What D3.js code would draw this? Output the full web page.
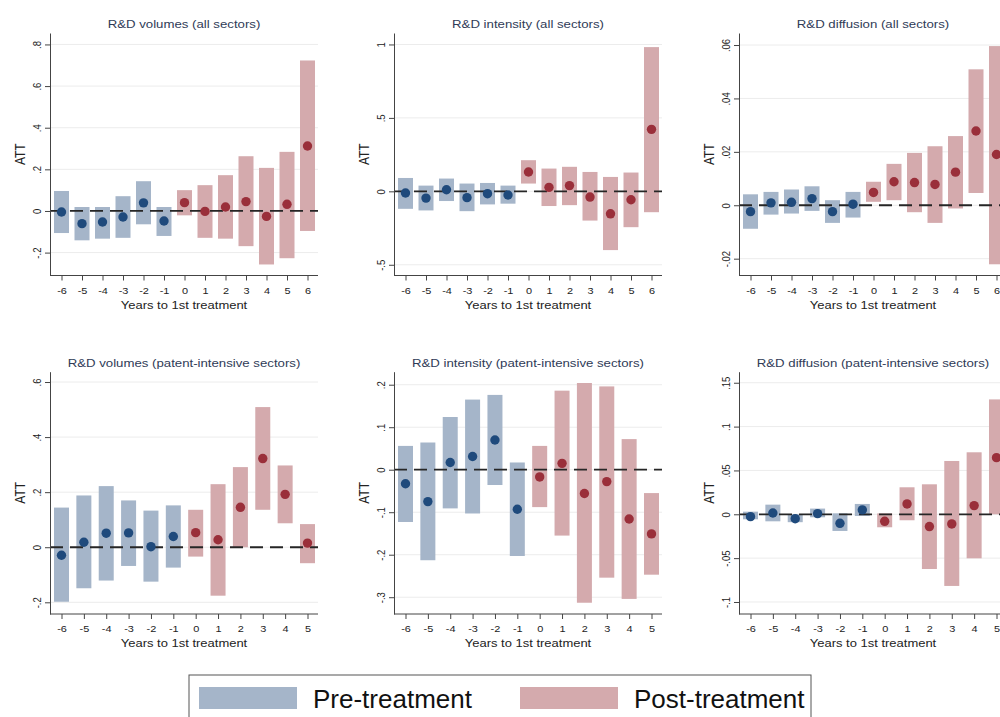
<!DOCTYPE html>
<html>
<head>
<meta charset="utf-8">
<script src="https://cdn.jsdelivr.net/npm/d3@7"></script>
<style>
  body { margin: 0; background: #fff; }
  svg { display: block; }
</style>
</head>
<body>
<div id="chart"></div>
<script>
// event-study estimates (ATT) with confidence bands
const yearsAll = [-6, -5, -4, -3, -2, -1, 0, 1, 2, 3, 4, 5, 6];
const yearsPatent = [-6, -5, -4, -3, -2, -1, 0, 1, 2, 3, 4, 5];

// R&D volumes (all sectors)
const volAllEst = [-0.005, -0.061, -0.053, -0.029, 0.039, -0.048, 0.040, -0.002, 0.019, 0.045, -0.026, 0.032, 0.312];
const volAllHi  = [0.096, 0.019, 0.019, 0.071, 0.143, 0.019, 0.100, 0.124, 0.172, 0.263, 0.207, 0.284, 0.723];
const volAllLo  = [-0.106, -0.141, -0.133, -0.129, -0.064, -0.120, -0.021, -0.129, -0.133, -0.169, -0.257, -0.227, -0.096];

// R&D intensity (all sectors)
const intAllEst = [-0.011, -0.046, 0.011, -0.043, -0.016, -0.025, 0.132, 0.027, 0.039, -0.039, -0.153, -0.057, 0.422];
const intAllHi  = [0.091, 0.039, 0.087, 0.053, 0.057, 0.039, 0.212, 0.155, 0.167, 0.132, 0.098, 0.128, 0.982];
const intAllLo  = [-0.119, -0.130, -0.066, -0.135, -0.089, -0.084, 0.053, -0.100, -0.094, -0.199, -0.400, -0.244, -0.142];

// R&D diffusion (all sectors)
const difAllEst = [-0.0024, 0.0009, 0.0011, 0.0025, -0.0024, 0.0004, 0.0048, 0.0088, 0.0085, 0.0078, 0.0124, 0.0278, 0.0190];
const difAllHi  = [0.0041, 0.0050, 0.0059, 0.0071, 0.0019, 0.0050, 0.0088, 0.0155, 0.0196, 0.0221, 0.0259, 0.0509, 0.0596];
const difAllLo  = [-0.0088, -0.0035, -0.0031, -0.0021, -0.0066, -0.0046, 0.0013, 0.0019, -0.0026, -0.0066, -0.0012, 0.0046, -0.0221];

// R&D volumes (patent-intensive sectors)
const volPatEst = [-0.029, 0.018, 0.051, 0.052, 0.002, 0.039, 0.053, 0.027, 0.145, 0.322, 0.192, 0.015];
const volPatHi  = [0.144, 0.188, 0.222, 0.170, 0.133, 0.152, 0.136, 0.229, 0.291, 0.509, 0.297, 0.084];
const volPatLo  = [-0.198, -0.149, -0.121, -0.068, -0.125, -0.074, -0.034, -0.176, 0.000, 0.136, 0.087, -0.058];

// R&D intensity (patent-intensive sectors)
const intPatEst = [-0.033, -0.075, 0.017, 0.031, 0.070, -0.093, -0.017, 0.015, -0.056, -0.028, -0.116, -0.151];
const intPatHi  = [0.056, 0.064, 0.124, 0.165, 0.176, 0.017, 0.056, 0.186, 0.204, 0.196, 0.072, -0.055];
const intPatLo  = [-0.123, -0.213, -0.091, -0.103, -0.036, -0.203, -0.088, -0.155, -0.313, -0.254, -0.304, -0.247];

// R&D diffusion (patent-intensive sectors)
const difPatEst = [-0.0027, 0.0015, -0.0050, 0.0008, -0.0103, 0.0050, -0.0080, 0.0118, -0.0140, -0.0110, 0.0099, 0.0646];
const difPatHi  = [0.0030, 0.0110, 0.0000, 0.0065, 0.0011, 0.0118, 0.0010, 0.0308, 0.0342, 0.0608, 0.0707, 0.1310];
const difPatLo  = [-0.0057, -0.0080, -0.0090, -0.0034, -0.0190, -0.0019, -0.0148, -0.0068, -0.0624, -0.0817, -0.0502, 0.0000];

// y ticks and their Stata-style labels
const volAllTicks = [-0.2, 0, 0.2, 0.4, 0.6, 0.8], volAllLabels = ["-.2", "0", ".2", ".4", ".6", ".8"];
const intAllTicks = [-0.5, 0, 0.5, 1], intAllLabels = ["-.5", "0", ".5", "1"];
const difAllTicks = [-0.02, 0, 0.02, 0.04, 0.06], difAllLabels = ["-.02", "0", ".02", ".04", ".06"];
const volPatTicks = [-0.2, 0, 0.2, 0.4, 0.6], volPatLabels = ["-.2", "0", ".2", ".4", ".6"];
const intPatTicks = [-0.3, -0.2, -0.1, 0, 0.1, 0.2], intPatLabels = ["-.3", "-.2", "-.1", "0", ".1", ".2"];
const difPatTicks = [-0.1, -0.05, 0, 0.05, 0.1, 0.15], difPatLabels = ["-.1", "-.05", "0", ".05", ".1", ".15"];

const legendLabels = ["Pre-treatment", "Post-treatment"];

const width = 1000, height = 717;
const colLeft = [50, 394, 739];
const rowTop = [33, 371.7], rowBottom = [275.5, 614];
const plotW = 268, barW = 15, sx = 1.15;
const preBar = "#a5b5c9", postBar = "#d4aaad";
const preDot = "#1f4a7c", postDot = "#9a2f3a";
const font = "'Liberation Sans', Arial, Helvetica, sans-serif";

const panels = [
  {title: "R&D volumes (all sectors)", years: yearsAll, est: volAllEst, lo: volAllLo, hi: volAllHi,
   ticks: volAllTicks, labels: volAllLabels, domain: [-0.31, 0.855], col: 0, row: 0},
  {title: "R&D intensity (all sectors)", years: yearsAll, est: intAllEst, lo: intAllLo, hi: intAllHi,
   ticks: intAllTicks, labels: intAllLabels, domain: [-0.573, 1.078], col: 1, row: 0},
  {title: "R&D diffusion (all sectors)", years: yearsAll, est: difAllEst, lo: difAllLo, hi: difAllHi,
   ticks: difAllTicks, labels: difAllLabels, domain: [-0.0263, 0.0645], col: 2, row: 0},
  {title: "R&D volumes (patent-intensive sectors)", years: yearsPatent, est: volPatEst, lo: volPatLo, hi: volPatHi,
   ticks: volPatTicks, labels: volPatLabels, domain: [-0.2425, 0.6375], col: 0, row: 1},
  {title: "R&D intensity (patent-intensive sectors)", years: yearsPatent, est: intPatEst, lo: intPatLo, hi: intPatHi,
   ticks: intPatTicks, labels: intPatLabels, domain: [-0.3395, 0.2306], col: 1, row: 1},
  {title: "R&D diffusion (patent-intensive sectors)", years: yearsPatent, est: difPatEst, lo: difPatLo, hi: difPatHi,
   ticks: difPatTicks, labels: difPatLabels, domain: [-0.1137, 0.1626], col: 2, row: 1}
];

const svg = d3.select("#chart").append("svg")
    .attr("width", width)
    .attr("height", height)
    .attr("font-family", font);

svg.append("rect").attr("width", width).attr("height", height).attr("fill", "#fff");

// text slightly stretched horizontally, like the exported Stata figure
function label(g, x, y, str, size, opts = {}) {
  return g.append("text")
      .attr("transform", `translate(${x},${y}) scale(${sx},1)` + (opts.rotate ? " rotate(-90)" : ""))
      .attr("text-anchor", "middle")
      .attr("font-size", size)
      .attr("fill", opts.fill || "#222")
      .text(str);
}

panels.forEach(p => {
  const left = colLeft[p.col], top = rowTop[p.row], bottom = rowBottom[p.row];
  const x = d3.scaleLinear()
      .domain([p.years[0], p.years[p.years.length - 1]])
      .range([left + 11.5, left + 257.5]);
  const y = d3.scaleLinear().domain(p.domain).range([bottom, top]);
  const rows = p.years.map((yr, i) => ({year: yr, est: p.est[i], lo: p.lo[i], hi: p.hi[i]}));

  const g = svg.append("g");

  g.append("g").selectAll("line")
    .data(p.ticks)
    .join("line")
      .attr("x1", left).attr("x2", left + plotW)
      .attr("y1", d => y(d)).attr("y2", d => y(d))
      .attr("stroke", "#ececec");

  g.append("g").selectAll("rect")
    .data(rows)
    .join("rect")
      .attr("x", d => x(d.year) - barW / 2)
      .attr("width", barW)
      .attr("y", d => y(d.hi))
      .attr("height", d => y(d.lo) - y(d.hi))
      .attr("fill", d => d.year < 0 ? preBar : postBar);

  g.append("line")
      .attr("x1", left).attr("x2", left + plotW)
      .attr("y1", y(0)).attr("y2", y(0))
      .attr("stroke", "#262626")
      .attr("stroke-width", 1.8)
      .attr("stroke-dasharray", "13,7");

  g.append("g").selectAll("circle")
    .data(rows)
    .join("circle")
      .attr("cx", d => x(d.year))
      .attr("cy", d => y(d.est))
      .attr("r", 4.7)
      .attr("fill", d => d.year < 0 ? preDot : postDot);

  // y axis
  const ya = g.append("g")
      .attr("transform", `translate(${left},0)`)
      .call(d3.axisLeft(y).tickValues(p.ticks).tickFormat((d, i) => p.labels[i]).tickSize(5).tickSizeOuter(0));
  ya.select(".domain").attr("stroke", "#444");
  ya.selectAll(".tick line").attr("stroke", "#444");
  ya.selectAll(".tick text")
      .attr("x", null).attr("dy", null)
      .attr("text-anchor", "middle")
      .attr("font-family", font)
      .attr("font-size", 9.5)
      .attr("fill", "#222")
      .attr("transform", `translate(-9,0) scale(${sx},1) rotate(-90)`);

  // x axis
  const xa = g.append("g")
      .attr("transform", `translate(0,${bottom})`)
      .call(d3.axisBottom(x).tickValues(p.years).tickFormat(d => String(d)).tickSize(5));
  xa.select(".domain").remove();
  xa.append("line").attr("x1", left).attr("x2", left + plotW).attr("stroke", "#444");
  xa.selectAll(".tick line").attr("stroke", "#444");
  xa.selectAll(".tick text")
      .attr("y", null).attr("dy", null)
      .attr("font-family", font)
      .attr("font-size", 9.5)
      .attr("fill", "#222")
      .attr("transform", `translate(0,18) scale(${sx},1)`);

  label(g, left + plotW / 2, top - 5, p.title, 11.5, {fill: "#2f3b57"});
  label(g, left + plotW / 2, bottom + 33, "Years to 1st treatment", 11.3);
  label(g, left - 25, (top + bottom) / 2, "ATT", 12, {rotate: true});
});

// legend
const leg = svg.append("g");
leg.append("rect")
    .attr("x", 189).attr("y", 675)
    .attr("width", 622).attr("height", 60)
    .attr("fill", "#fff")
    .attr("stroke", "#555");

const legItems = legendLabels.map((t, i) => ({text: t, fill: i === 0 ? preBar : postBar, x: 199 + i * 321}));
leg.selectAll("rect.sw")
  .data(legItems)
  .join("rect")
    .attr("class", "sw")
    .attr("x", d => d.x).attr("y", 687)
    .attr("width", 98).attr("height", 22)
    .attr("fill", d => d.fill);
leg.selectAll("text")
  .data(legItems)
  .join("text")
    .attr("x", d => d.x + 114).attr("y", 708)
    .attr("font-size", 26)
    .attr("fill", "#111")
    .text(d => d.text);
</script>
</body>
</html>
